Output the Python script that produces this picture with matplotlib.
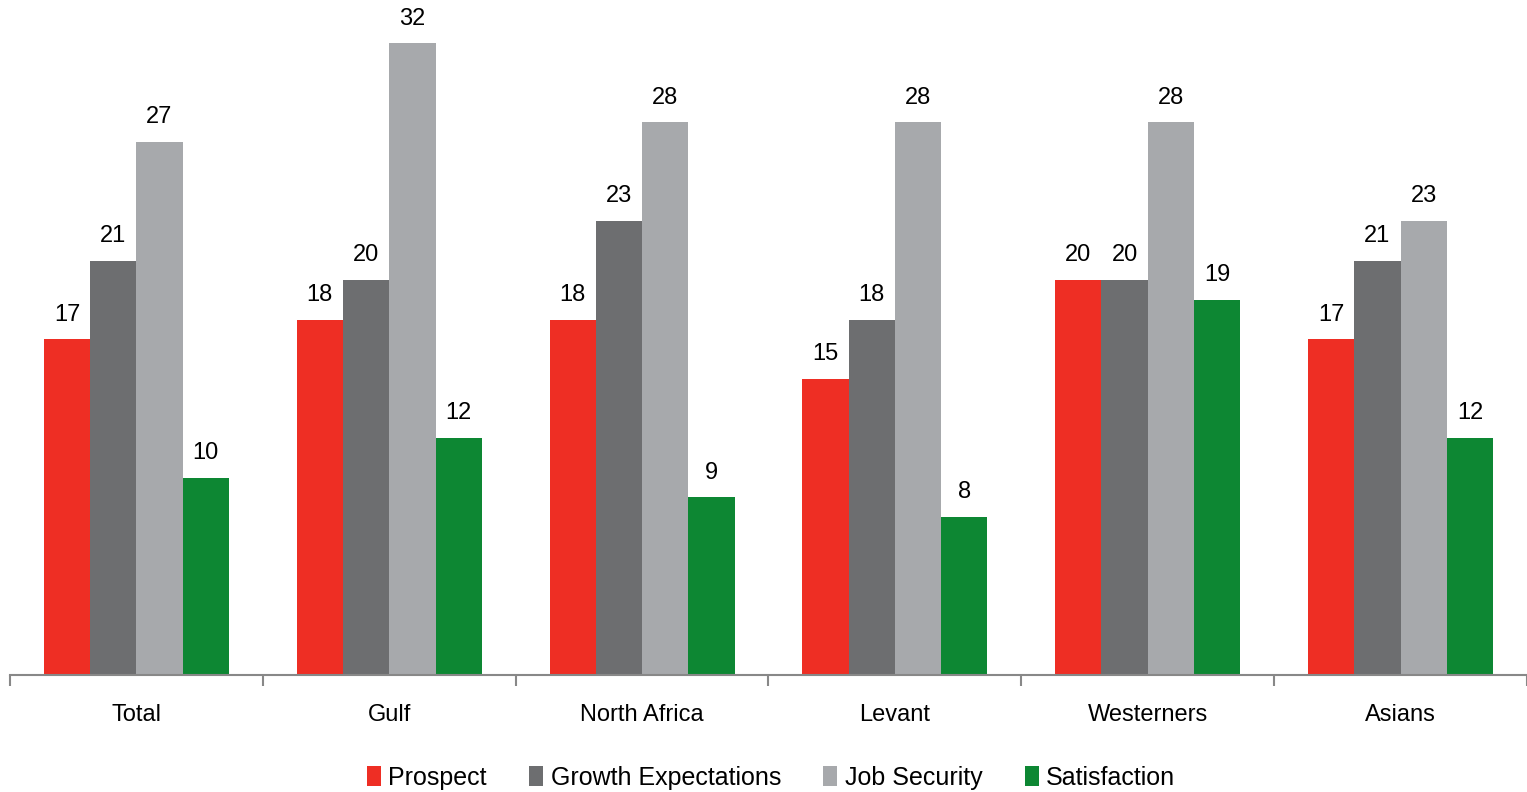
import numpy as np
import matplotlib.pyplot as plt

plt.rcParams['font.family'] = ['Liberation Sans', 'DejaVu Sans']

groups = ['Total', 'Gulf', 'North Africa', 'Levant', 'Westerners', 'Asians']
series = ['Prospect', 'Growth Expectations', 'Job Security', 'Satisfaction']
prospect = [17, 18, 18, 15, 20, 17]
growth = [21, 20, 23, 18, 20, 21]
security = [27, 32, 28, 28, 28, 23]
satisfaction = [10, 12, 9, 8, 19, 12]
colors = ['#EE2E24', '#6D6E70', '#A7A9AC', '#0D8733']

fig = plt.figure(figsize=(15.27, 7.92), dpi=100)
ax = fig.add_axes([10 / 1527, 117 / 792, 1 - 10 / 1527, 1 - 117 / 792])

x = np.arange(len(groups))
w = 0.183
for i, (name, vals) in enumerate(zip(series, [prospect, growth, security, satisfaction])):
    pos = x + (i - 1.5) * w
    ax.bar(pos, vals, width=w, color=colors[i], label=name)
    for p, v in zip(pos, vals):
        ax.text(p, v + 0.7, str(v), ha='center', va='bottom', fontsize=17)

ax.set_xlim(-0.5, 5.5)
ax.set_ylim(0, 34.2)
for s in ['top', 'right', 'left']:
    ax.spines[s].set_visible(False)
ax.spines['bottom'].set_color('#888888')
ax.spines['bottom'].set_linewidth(1.5)
ax.set_yticks([])

# category boundaries get tick marks, labels sit at the centres
ax.set_xticks(np.arange(-0.5, 6, 1))
ax.set_xticklabels([])
ax.tick_params(axis='x', direction='out', length=8, width=1.5, color='#888888')
for xi, g in zip(x, groups):
    ax.text(xi, -2.05, g, ha='center', va='center', fontsize=17)

fig.legend(loc='center', bbox_to_anchor=(0.505, 0.018), ncol=4, frameon=False,
           fontsize=18, handlelength=0.55, handleheight=0.8, handletextpad=0.3,
           columnspacing=1.7)

fig.savefig('out.png', dpi=100)
